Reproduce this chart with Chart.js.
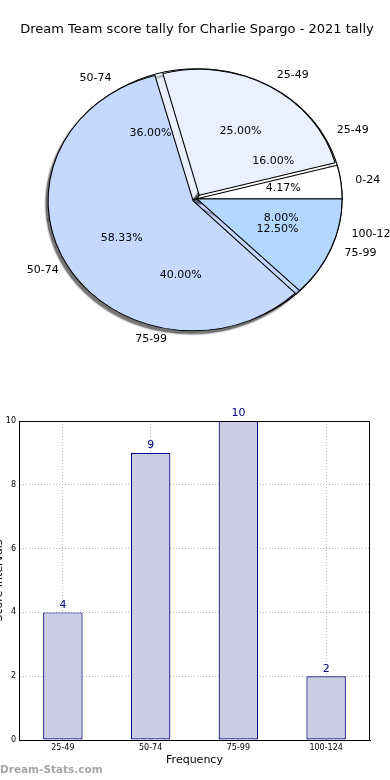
<!DOCTYPE html>
<html>
<head>
<meta charset="utf-8">
<script src="https://cdn.jsdelivr.net/npm/chart.js@4.4.0/dist/chart.umd.min.js"></script>
<style>
  html, body { margin: 0; padding: 0; background: #fff; }
  body { width: 390px; height: 780px; position: relative; overflow: hidden; }
  canvas { position: absolute; left: 0; }
  #pieBack, #pieFront { top: 0; }
  #barChart { top: 400px; }
</style>
</head>
<body>
<canvas id="pieBack" width="390" height="350"></canvas>
<canvas id="pieFront" width="390" height="350"></canvas>
<canvas id="barChart" width="390" height="380"></canvas>
<script>
const TITLE = 'Dream Team score tally for Charlie Spargo - 2021 tally';

// front pie (the one drawn on top)
const frontLabels = ['0-24', '25-49', '50-74', '75-99'];
const frontCounts = [1, 6, 14, 3];
// back pie (hidden underneath, only its labels show)
const backLabels = ['25-49', '50-74', '75-99', '100-124'];
const backCounts = [4, 9, 10, 2];

// bar chart
const barLabels = ['25-49', '50-74', '75-99', '100-124'];
const barCounts = [4, 9, 10, 2];
const yTicks = [0, 2, 4, 6, 8, 10];

const PIE_COLORS = ['#ffffff', '#e9f1ff', '#c5d9ff', '#b3d7ff'];
// chart.js moves an arc by offset/4 px (and grows it by the same, undone below)
const FRONT_EXPLODE = [0, 16, 16, 0];
const BACK_EXPLODE = [0, 0, 0, 0];
const STRETCH = 1.116;   // the original pie is a bit wider than tall
const PIE_RADIUS = 130;
const TITLE_BLOCK = 22 + 13 * 1.2 + 10;

Chart.defaults.font.family = "'DejaVu Sans', sans-serif";
Chart.defaults.color = '#000';

// matplotlib goes counter-clockwise from 3 o'clock, chart.js clockwise
const ccw = arr => arr.slice().reverse();

// squash the pie into an ellipse around its centre
const ellipse = {
    id: 'ellipse',
    beforeDatasetsDraw(chart) {
        const a = chart.chartArea;
        const cx = (a.left + a.right) / 2;
        const ctx = chart.ctx;
        ctx.save();
        ctx.translate(cx, 0);
        ctx.scale(STRETCH, 1);
        ctx.translate(-cx, 0);
    },
    afterDatasetsDraw(chart) {
        chart.ctx.restore();
    }
};

// exploded slices should only move, not get bigger
const explodeFix = {
    id: 'explodeFix',
    beforeDatasetsDraw(chart) {
        chart.getDatasetMeta(0).data.forEach(arc => {
            arc.outerRadius = PIE_RADIUS - (arc.options.offset || 0) / 4;
        });
    }
};

const shadow = {
    id: 'shadow',
    beforeDatasetsDraw(chart) {
        const ctx = chart.ctx;
        ctx.save();
        ctx.shadowColor = 'rgba(0,0,0,0.55)';
        ctx.shadowBlur = 1.5;
        ctx.shadowOffsetX = -6;
        ctx.shadowOffsetY = 5;
    },
    afterDatasetsDraw(chart) {
        chart.ctx.restore();
    }
};

function pieConfig(labels, counts, explode, plugins, withTitle) {
    return {
        type: 'pie',
        data: {
            labels: ccw(labels),
            datasets: [{
                data: ccw(counts),
                backgroundColor: ccw(PIE_COLORS),
                borderColor: '#000',
                borderWidth: 1,
                offset: ccw(explode)
            }]
        },
        options: {
            responsive: false,
            animation: false,
            events: [],
            rotation: 90,
            radius: PIE_RADIUS,
            layout: { padding: { left: 4, top: withTitle ? 0 : TITLE_BLOCK } },
            plugins: {
                legend: { display: false },
                tooltip: { enabled: false },
                title: {
                    display: withTitle,
                    text: TITLE,
                    color: '#000',
                    font: { size: 13, weight: 'normal' },
                    padding: { top: 22, bottom: 10 }
                }
            }
        },
        plugins: plugins
    };
}

const backChart = new Chart(document.getElementById('pieBack'),
    pieConfig(backLabels, backCounts, BACK_EXPLODE, [ellipse, shadow], false));

// labels for both pies, drawn on the top canvas
const pieLabels = {
    id: 'pieLabels',
    afterDraw(chart) {
        const ctx = chart.ctx;
        ctx.save();
        ctx.fillStyle = '#000';
        ctx.font = "11px 'DejaVu Sans', sans-serif";
        ctx.textBaseline = 'middle';
        [backChart, chart].forEach(c => {
            const meta = c.getDatasetMeta(0);
            const vals = c.data.datasets[0].data;
            const total = vals.reduce((s, v) => s + v, 0);
            meta.data.forEach((arc, i) => {
                const mid = (arc.startAngle + arc.endAngle) / 2;
                const r = PIE_RADIUS;
                const cos = Math.cos(mid), sin = Math.sin(mid);
                ctx.textAlign = 'center';
                ctx.fillText((vals[i] / total * 100).toFixed(2) + '%',
                    arc.x + STRETCH * r * 0.6 * cos, arc.y + r * 0.6 * sin);
                ctx.textAlign = cos >= 0 ? 'left' : 'right';
                ctx.fillText(c.data.labels[i],
                    arc.x + STRETCH * r * 1.1 * cos, arc.y + r * 1.1 * sin);
            });
        });
        ctx.restore();
    }
};

new Chart(document.getElementById('pieFront'),
    pieConfig(frontLabels, frontCounts, FRONT_EXPLODE, [ellipse, explodeFix, pieLabels], true));

// frame, value labels, watermark and the clipped y title
const barExtras = {
    id: 'barExtras',
    afterDraw(chart) {
        const ctx = chart.ctx;
        const a = chart.chartArea;
        ctx.save();
        ctx.strokeStyle = '#000';
        ctx.lineWidth = 1;
        ctx.strokeRect(Math.round(a.left) + 0.5, Math.round(a.top) + 0.5,
            Math.round(a.right - a.left) - 1, Math.round(a.bottom - a.top));

        ctx.fillStyle = '#000080';
        ctx.font = "11px 'DejaVu Sans', sans-serif";
        ctx.textAlign = 'center';
        ctx.textBaseline = 'bottom';
        chart.getDatasetMeta(0).data.forEach((bar, i) => {
            ctx.fillText(String(barCounts[i]), bar.x, bar.y - 2);
        });

        ctx.fillStyle = '#a6a6a6';
        ctx.font = "bold 10.5px 'DejaVu Sans', sans-serif";
        ctx.textAlign = 'left';
        ctx.textBaseline = 'middle';
        ctx.fillText('Dream-Stats.com', 0, 370);

        ctx.fillStyle = '#000';
        ctx.font = "11px 'DejaVu Sans', sans-serif";
        ctx.translate(2, (a.top + a.bottom) / 2);
        ctx.rotate(-Math.PI / 2);
        ctx.textAlign = 'center';
        ctx.textBaseline = 'alphabetic';
        ctx.fillText('Score Intervals', 0, 0);
        ctx.restore();
    }
};

new Chart(document.getElementById('barChart'), {
    type: 'bar',
    data: {
        labels: barLabels,
        datasets: [{
            data: barCounts,
            backgroundColor: '#ccccE5',
            borderColor: '#000080',
            borderWidth: 1.2,
            borderSkipped: false,
            barPercentage: 0.45,
            categoryPercentage: 1
        }]
    },
    options: {
        responsive: false,
        animation: false,
        events: [],
        layout: { padding: { top: 21, right: 20, bottom: 10, left: 0 } },
        plugins: {
            legend: { display: false },
            tooltip: { enabled: false }
        },
        scales: {
            x: {
                grid: { offset: false, color: '#b5b5b5', drawTicks: false },
                border: { dash: [1, 2], color: '#000' },
                ticks: { font: { size: 8 }, padding: 3, color: '#000' },
                title: {
                    display: true, text: 'Frequency', color: '#000',
                    font: { size: 11 }, padding: { top: 2, bottom: 3 }
                },
                afterFit: s => { s.height = 30; }
            },
            y: {
                min: 0,
                max: 10,
                afterBuildTicks: s => { s.ticks = yTicks.map(v => ({ value: v })); },
                grid: { color: '#b5b5b5', drawTicks: false },
                border: { dash: [1, 2], color: '#000' },
                ticks: { font: { size: 8 }, padding: 3, color: '#000' },
                afterFit: s => { s.width = 19; }
            }
        }
    },
    plugins: [barExtras]
});
</script>
</body>
</html>
